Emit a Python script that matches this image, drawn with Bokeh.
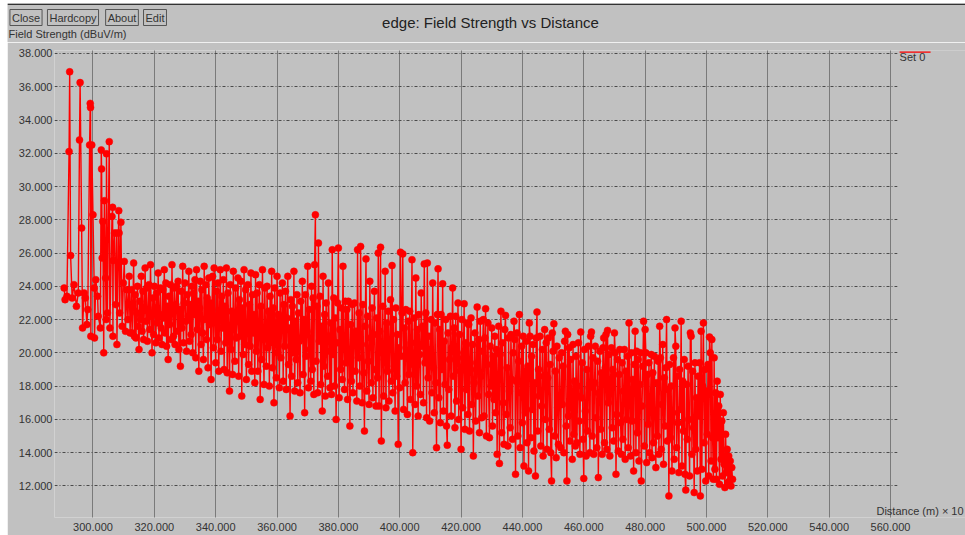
import numpy as np
from bokeh.plotting import figure
from bokeh.layouts import column
from bokeh.models import FixedTicker, PrintfTickFormatter, Range1d, Label, BoxAnnotation
from bokeh.embed import file_html
from bokeh.resources import INLINE

# ---- data ----
early_distance = [
    290.6, 290.9, 291.5, 292.2, 292.4, 292.7, 293.2, 293.8, 294.6, 295.2,
    295.6, 295.8, 296.3, 296.6, 297.1, 297.5, 298.0, 298.3, 298.9, 299.1,
    299.2, 299.3, 299.6, 300.0, 300.4, 300.5, 300.9, 301.5, 301.7, 302.4,
    302.7, 302.8, 303.0, 303.2, 303.5, 303.7, 304.1, 304.3, 304.4, 304.7,
    305.3, 305.5, 306.2, 306.4, 306.5, 306.6, 307.0, 307.4, 307.7, 307.8,
    308.4, 308.5, 308.7, 309.1, 309.5, 309.9, 310.2, 310.6, 311.0, 311.4,
    311.8, 312.1,
]
early_strength = [
    23.9, 23.2, 23.4, 32.1, 36.9, 25.85, 23.3, 24.1, 22.8, 23.6,
    32.8, 36.25, 27.5, 21.5, 23.6, 23.3, 21.7, 22.6, 32.5, 35.0,
    34.75, 21.0, 32.5, 28.3, 23.9, 20.9, 24.4, 23.4, 22.2, 21.5,
    32.2, 31.06, 25.7, 27.9, 20.0, 29.15, 24.5, 22.0, 31.97, 22.4,
    32.7, 21.5, 28.2, 28.75, 21.0, 25.55, 27.2, 22.9, 27.2, 20.5,
    28.55, 27.2, 22.4, 27.85, 21.6, 24.2, 25.5, 21.3, 23.8, 22.0,
    24.6, 21.2,
]
# regularly sampled part of the route (one reading every 0.25 units)
main_start = 312.5
main_step = 0.25
main_strength = [
    23.8, 21.2, 22.9, 25.4, 21.0, 23.5, 20.9, 22.4, 24.0, 21.6,
    20.2, 23.1, 22.0, 24.6, 21.3, 23.7, 20.8, 22.6, 25.1, 21.9,
    23.9, 20.7, 22.5, 24.1, 21.4, 25.3, 22.2, 20.0, 23.3, 21.1,
    24.0, 22.7, 20.6, 23.6, 21.8, 24.8, 20.9, 22.3, 23.9, 21.5,
    20.5, 23.8, 22.1, 25.0, 21.2, 24.2, 20.4, 22.8, 19.6, 23.4,
    21.7, 24.1, 20.8, 25.3, 22.4, 21.0, 23.9, 20.5, 22.9, 24.0,
    21.3, 24.3, 20.2, 22.6, 19.2, 23.7, 21.5, 25.2, 20.6, 23.0,
    24.2, 21.9, 20.1, 23.5, 22.2, 24.9, 20.7, 22.9, 21.1, 24.0,
    20.0, 23.6, 22.3, 24.4, 19.7, 25.0, 21.4, 23.1, 18.9, 22.7,
    24.3, 20.5, 23.8, 21.2, 19.6, 25.2, 22.0, 24.1, 20.8, 23.3,
    19.1, 24.5, 21.7, 23.0, 18.4, 22.6, 24.6, 20.3, 25.1, 21.9,
    19.4, 23.7, 20.8, 24.2, 18.9, 22.4, 25.0, 20.1, 23.4, 21.5,
    24.4, 19.0, 22.8, 20.6, 25.1, 18.8, 23.6, 21.4, 17.7, 24.1,
    20.2, 22.5, 18.7, 24.9, 21.8, 19.5, 23.9, 20.9, 22.2, 24.5,
    18.6, 23.2, 21.0, 24.3, 17.4, 22.7, 19.9, 25.0, 20.5, 23.8,
    18.4, 21.6, 24.1, 19.3, 22.9, 20.4, 24.8, 18.9, 23.5, 21.2,
    22.3, 18.2, 24.7, 20.1, 23.6, 18.9, 21.7, 24.1, 17.2, 22.8,
    19.6, 25.0, 20.8, 18.1, 23.9, 21.4, 19.2, 24.0, 20.3, 22.5,
    18.0, 23.4, 20.6, 24.9, 19.1, 22.7, 17.0, 23.9, 21.2, 18.5,
    24.6, 20.0, 22.3, 17.9, 23.6, 19.7, 21.8, 24.2, 18.3, 22.9,
    20.4, 23.7, 17.8, 22.1, 24.6, 19.3, 21.5, 16.2, 23.2, 18.6,
    22.8, 20.0, 24.9, 17.7, 21.9, 19.6, 23.5, 18.2, 22.4, 20.7,
    17.6, 23.1, 20.9, 24.3, 18.7, 22.0, 16.4, 23.5, 19.8, 21.3,
    25.2, 17.9, 22.6, 20.2, 18.3, 24.0, 19.0, 23.3, 17.5, 25.3,
    28.3, 19.5, 22.8, 17.6, 26.6, 20.7, 23.4, 18.1, 21.6, 16.5,
    24.6, 19.2, 22.3, 17.4, 23.0, 20.1, 18.6, 24.2, 21.0, 17.9,
    21.8, 17.5, 26.2, 19.9, 23.3, 18.0, 22.1, 16.0, 20.6, 23.0,
    26.3, 17.3, 21.4, 19.0, 22.7, 18.4, 25.2, 20.3, 17.8, 23.1,
    19.4, 22.6, 17.2, 23.1, 20.2, 15.6, 21.7, 18.3, 22.9, 17.6,
    20.8, 23.0, 18.9, 21.3, 17.1, 26.2, 19.7, 22.4, 18.0, 26.4,
    20.5, 17.0, 22.9, 18.8, 15.3, 21.6, 25.65, 17.7, 22.2, 19.5,
    16.9, 24.3, 20.9, 18.2, 22.7, 17.3, 21.1, 23.7, 19.0, 16.8,
    22.1, 18.5, 26.0, 16.8, 21.3, 26.35, 14.7, 20.0, 22.8, 17.4,
    19.6, 24.9, 16.7, 21.8, 18.9, 22.5, 17.1, 20.7, 23.2, 18.3,
    25.25, 17.6, 22.0, 19.2, 16.5, 22.7, 18.6, 21.1, 14.5, 20.3,
    17.9, 26.05, 19.8, 22.4, 25.95, 16.6, 21.5, 18.2, 22.6, 20.0,
    16.3, 21.9, 18.7, 22.5, 17.2, 20.6, 25.6, 14.0, 19.3, 22.1,
    16.9, 24.5, 18.0, 21.4, 16.2, 22.3, 19.9, 17.5, 23.6, 20.4,
    21.6, 17.0, 25.35, 19.4, 22.4, 16.1, 25.4, 18.5, 21.0, 15.9,
    20.2, 22.0, 17.6, 24.2, 19.1, 16.4, 21.8, 18.2, 14.3, 22.3,
    25.05, 17.3, 21.4, 15.8, 22.3, 19.0, 24.15, 16.5, 20.7, 18.1,
    22.0, 15.6, 14.45, 21.2, 17.8, 19.6, 22.2, 16.2, 20.3, 23.9,
    18.6, 21.5, 15.5, 22.2, 17.1, 20.0, 23.0, 16.0, 21.1, 18.9,
    14.2, 22.0, 16.7, 19.7, 22.95, 15.4, 20.6, 17.8, 21.8, 16.3,
    21.7, 15.3, 19.4, 22.1, 16.9, 20.5, 13.8, 18.2, 21.2, 15.9,
    19.0, 22.75, 17.4, 20.8, 15.2, 21.9, 18.6, 16.1, 20.1, 22.0,
    16.2, 20.9, 22.65, 15.0, 19.3, 21.8, 17.5, 14.9, 20.4, 18.0,
    21.5, 15.6, 19.8, 17.2, 21.0, 16.4, 20.2, 13.9, 18.7, 21.6,
    13.35, 19.9, 22.5, 15.2, 20.6, 17.0, 14.5, 21.4, 22.25, 16.3,
    19.1, 14.4, 20.9, 17.7, 15.5, 21.1, 18.4, 14.8, 20.0, 21.9,
    20.8, 12.7, 18.3, 21.2, 15.0, 19.5, 22.3, 14.3, 17.6, 20.4,
    15.8, 21.0, 13.2, 18.9, 16.4, 20.7, 14.6, 19.2, 12.9, 21.8,
    21.0, 14.9, 19.8, 16.6, 20.5, 14.1, 18.2, 12.6, 20.9, 22.45,
    15.3, 19.0, 17.4, 21.0, 14.4, 16.8, 20.2, 13.8, 18.6, 21.4,
    16.0, 20.6, 14.2, 18.5, 20.9, 15.4, 19.3, 14.0, 12.3, 21.2,
    20.1, 21.75, 15.0, 18.9, 13.7, 20.4, 16.7, 14.5, 19.7, 17.2,
    14.3, 20.0, 16.9, 19.2, 14.0, 20.7, 21.3, 15.6, 12.3, 21.1,
    16.2, 20.3, 14.7, 19.6, 17.4, 13.6, 20.5, 15.1, 18.3, 14.4,
    19.8, 14.6, 18.0, 20.6, 15.9, 13.9, 21.25, 17.3, 19.4, 14.8,
    12.45, 20.2, 16.5, 13.8, 19.0, 15.3, 20.4, 17.9, 14.0, 21.0,
    21.25, 15.0, 19.7, 13.9, 18.2, 20.4, 16.1, 14.3, 19.5, 12.5,
    17.6, 20.1, 15.4, 18.8, 13.9, 20.3, 20.9, 14.6, 19.1, 21.1,
    14.2, 21.35, 17.0, 19.9, 13.8, 18.4, 20.3, 15.5, 19.0, 14.7,
    21.2, 20.0, 12.7, 16.3, 19.6, 14.1, 18.7, 20.2, 15.8, 13.9,
    19.4, 14.8, 17.7, 20.2, 13.6, 18.9, 16.0, 19.8, 14.3, 21.8,
    17.2, 13.8, 20.0, 15.9, 18.4, 12.9, 19.3, 21.3, 14.0, 20.1,
    15.2, 19.6, 13.5, 18.1, 20.0, 12.3, 16.8, 19.2, 21.9, 14.4,
    21.4, 20.0, 13.4, 18.7, 15.7, 19.4, 14.0, 17.0, 19.9, 13.7,
    18.8, 14.6, 19.8, 16.3, 13.1, 18.2, 15.0, 19.5, 13.9, 21.6,
    19.7, 14.2, 16.9, 20.5, 13.3, 18.5, 15.6, 19.1, 22.0, 14.7,
    17.8, 11.4, 19.3, 14.9, 18.0, 12.9, 16.4, 19.7, 13.6, 21.5,
    20.4, 14.3, 18.6, 15.8, 12.8, 19.0, 16.6, 21.9, 13.2, 18.3,
    15.3, 19.6, 12.7, 11.75, 18.1, 14.8, 19.2, 16.0, 12.6, 21.2,
    21.0, 13.9, 18.9, 15.5, 11.6, 19.4, 14.2, 17.3, 12.9, 18.6,
    16.2, 19.4, 11.4, 21.3, 13.0, 18.0, 21.8, 14.6, 19.0, 12.3,
    17.7, 15.1, 19.3, 12.6, 20.95, 20.0, 13.5, 20.8, 14.9, 12.4,
    19.7, 13.0, 17.6, 12.4, 18.3, 14.9, 16.8, 12.1, 17.5, 13.6,
    15.9, 12.6, 16.4, 13.3, 11.9, 15.1, 12.8, 14.2, 12.2, 13.8,
    12.3, 13.5, 12.0, 13.1, 12.4,
]
x_ticks = [300, 320, 340, 360, 380, 400, 420, 440, 460, 480, 500, 520, 540, 560]
y_ticks = [12, 14, 16, 18, 20, 22, 24, 26, 28, 30, 32, 34, 36, 38]
title_text = "edge: Field Strength vs Distance"
y_label_text = "Field Strength (dBuV/m)"
x_label_text = "Distance (m) \u00d7 10"
series_name = "Set 0"
buttons = ["Close", "Hardcopy", "About", "Edit"]

distance = early_distance + list(main_start + main_step * np.arange(len(main_strength)))
strength = early_strength + main_strength

BG = "#c1c1c1"
FONT = "Liberation Sans"
W = 958
TOP = 3          # page y where the header starts
HEAD_H = 39      # header height
MAIN_H = 535 - TOP - HEAD_H

# ---- header (buttons, title, y label) ----
head = figure(width=W, height=HEAD_H, output_backend="svg", toolbar_location=None,
              x_range=Range1d(0, W), y_range=Range1d(HEAD_H, 0),
              x_axis_type=None, y_axis_type=None, min_border=0)
head.frame_align = False
head.background_fill_color = BG
head.border_fill_color = BG
head.outline_line_color = None
head.add_layout(BoxAnnotation(top=0, bottom=1.5, fill_color="#333333", fill_alpha=1,
                              line_alpha=0))


def hx(page_x):
    return page_x - 7


def hy(page_y):
    return page_y - TOP


head.add_layout(Label(x=hx(490), y=hy(21.7), text=title_text, text_align="center",
                      text_baseline="middle", text_font=FONT, text_font_size="15px",
                      text_color="#222222"))
head.add_layout(Label(x=hx(8), y=hy(33), text=y_label_text, text_align="left",
                      text_baseline="middle", text_font=FONT, text_font_size="11px",
                      text_color="#333333"))
button_centers = [25.5, 72.5, 121.5, 154.5]
for name, bx in zip(buttons, button_centers):
    head.add_layout(Label(x=hx(bx), y=hy(17), text=name, text_align="center",
                          text_baseline="middle", text_font=FONT, text_font_size="11px",
                          text_color="#333333", padding=2,
                          border_line_color="#555555", border_line_width=1))

# ---- main plot ----
X0, X1 = 287.45, 584.45
Y0, Y1 = 10.1, 38.18
p = figure(width=W, height=MAIN_H, output_backend="svg", toolbar_location=None,
           x_range=Range1d(X0, X1), y_range=Range1d(Y0, Y1),
           min_border_left=47, min_border_right=0, min_border_top=8,
           min_border_bottom=18)
p.frame_align = False
p.background_fill_color = BG
p.border_fill_color = BG
p.outline_line_color = None

p.line(distance, strength, line_color="#ff0000", line_width=1.4)
p.scatter(distance, strength, size=7, fill_color="#ff0000", line_color="#ff0000",
          line_width=0.5)

for ax in (p.xaxis[0], p.yaxis[0]):
    ax.axis_line_color = None
    ax.major_tick_line_color = None
    ax.minor_tick_line_color = None
    ax.major_tick_out = 0
    ax.major_tick_in = 0
    ax.minor_tick_out = 0
    ax.major_label_text_font = FONT
    ax.major_label_text_font_size = "11px"
    ax.major_label_text_color = "#333333"
    ax.formatter = PrintfTickFormatter(format="%.3f")
p.xaxis.ticker = FixedTicker(ticks=x_ticks)
p.yaxis.ticker = FixedTicker(ticks=y_ticks)
p.xaxis.major_label_standoff = 5
p.yaxis.major_label_standoff = 2

p.xgrid.ticker = FixedTicker(ticks=x_ticks)
p.ygrid.ticker = FixedTicker(ticks=y_ticks)
p.xgrid.grid_line_color = "#333333"
p.xgrid.grid_line_dash = "1 1"
p.ygrid.grid_line_color = "#4a4a4a"
p.ygrid.grid_line_dash = "3 2 1 2"

# pixel -> data helpers for the decorations (page coordinates)
SX = 3.067
SY = 16.63


def dx(page_x):
    return 300 + (page_x - 92.5) / SX


def dy(page_y):
    return 38 - (page_y - 53) / SY


# the plot area of the original ends at the legend column
p.add_layout(BoxAnnotation(left=dx(897), fill_color=BG, fill_alpha=1, line_alpha=0))
p.add_layout(BoxAnnotation(left=dx(899), right=dx(930), top=dy(51.1), bottom=dy(52.3),
                           fill_color="#ff0000", fill_alpha=1, line_alpha=0))
p.add_layout(Label(x=dx(899), y=dy(57), text=series_name, text_align="left",
                   text_baseline="middle", text_font=FONT, text_font_size="11px",
                   text_color="#333333"))
p.add_layout(Label(x=dx(963), y=dy(510.5), text=x_label_text, text_align="right",
                   text_baseline="middle", text_font=FONT, text_font_size="11px",
                   text_color="#333333"))

layout = column(head, p, margin=(TOP, 0, 0, 7), spacing=0)
open("out.html", "w").write(file_html(layout, INLINE))
